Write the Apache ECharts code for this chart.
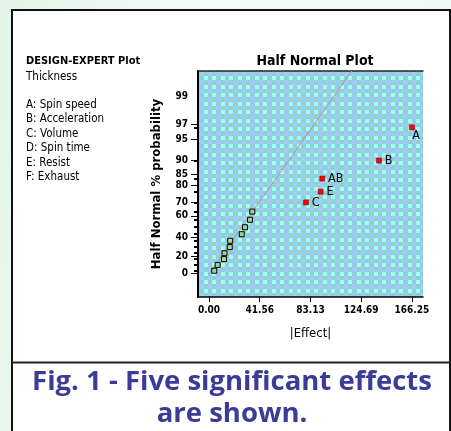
<!DOCTYPE html>
<html>
<head>
<meta charset="utf-8">
<script src="https://cdn.jsdelivr.net/npm/echarts@6/dist/echarts.min.js"></script>
<style>
html,body{margin:0;padding:0;width:451px;height:431px;overflow:hidden;
background:linear-gradient(100deg,#e4f4e8 0%,#f4fbf6 40%,#eef8f1 100%);}
#chart{width:451px;height:431px;}
</style>
</head>
<body>
<div id="chart"></div>
<script>
// ---------- data ----------
var sigNames = ['C', 'E', 'AB', 'B', 'A'];
var sigEffect = [79.4, 91.5, 92.8, 139.2, 166.25];
var sigProb = [70, 76.67, 83.33, 90, 96.67];
var smallEffect = [4.3, 7.1, 12.3, 12.7, 17.0, 17.4, 26.8, 29.5, 33.6, 35.5];
var smallProb = [3.33, 10, 16.67, 23.33, 30, 36.67, 43.33, 50, 56.67, 63.33];
var refLineEffect = [0, 116.9];
var refLineProb = [0, 99.68];
var xTickValues = [0, 41.5625, 83.125, 124.6875, 166.25];
var xTickLabels = ['0.00', '41.56', '83.13', '124.69', '166.25'];
var yTickProb = [0, 20, 40, 60, 70, 80, 85, 90, 95, 97, 99];
var yTickLabels = ['0', '20', '40', '60', '70', '80', '85', '90', '95', '97', '99'];
var factorNotes = ['A: Spin speed', 'B: Acceleration', 'C: Volume', 'D: Spin time', 'E: Resist', 'F: Exhaust'];

// ---------- half-normal probability scale ----------
function invNorm(p) {
  var a = [-3.969683028665376e+01, 2.209460984245205e+02, -2.759285104469687e+02, 1.383577518672690e+02, -3.066479806614716e+01, 2.506628277459239e+00];
  var b = [-5.447609879822406e+01, 1.615858368580409e+02, -1.556989798598866e+02, 6.680131188771972e+01, -1.328068155288572e+01];
  var c = [-7.784894002430293e-03, -3.223964580411365e-01, -2.400758277161838e+00, -2.549732539343734e+00, 4.374664141464968e+00, 2.938163982698783e+00];
  var d = [7.784695709041462e-03, 3.224671290700398e-01, 2.445134137142996e+00, 3.754408661907416e+00];
  var pl = 0.02425, q, r;
  if (p < pl) { q = Math.sqrt(-2 * Math.log(p));
    return (((((c[0]*q+c[1])*q+c[2])*q+c[3])*q+c[4])*q+c[5]) / ((((d[0]*q+d[1])*q+d[2])*q+d[3])*q+1); }
  if (p <= 1 - pl) { q = p - 0.5; r = q * q;
    return (((((a[0]*r+a[1])*r+a[2])*r+a[3])*r+a[4])*r+a[5])*q / (((((b[0]*r+b[1])*r+b[2])*r+b[3])*r+b[4])*r+1); }
  q = Math.sqrt(-2 * Math.log(1 - p));
  return -(((((c[0]*q+c[1])*q+c[2])*q+c[3])*q+c[4])*q+c[5]) / ((((d[0]*q+d[1])*q+d[2])*q+d[3])*q+1);
}
function hn(pct) { return pct <= 0 ? 0 : invNorm(0.5 + pct / 200); }

var yTickZ = yTickProb.map(hn);
var yMajorTickZ = yTickZ.slice(0, yTickZ.length - 1);
var dataTickZ = smallProb.concat(sigProb).map(hn);

// gingham pattern
var pc = document.createElement('canvas');
pc.width = 17; pc.height = 17;
var g = pc.getContext('2d');
var edges = [0, 4, 8, 12, 17];
for (var i = 0; i < 4; i++) for (var j = 0; j < 4; j++) {
  var ei = i % 2 === 0, ej = j % 2 === 0;
  g.fillStyle = (ei && ej) ? '#99ffff' : (!ei && !ej ? '#99ccff' : '#99cccc');
  g.fillRect(edges[i], edges[j], edges[i+1]-edges[i], edges[j+1]-edges[j]);
}

var smallData = smallEffect.map(function (x, i) { return [x, hn(smallProb[i])]; });
var sigData = sigEffect.map(function (x, i) {
  var item = { value: [x, hn(sigProb[i])], name: sigNames[i] };
  if (sigNames[i] === 'A') item.label = { position: [3, 5] };
  return item;
});
var lineData = refLineEffect.map(function (x, i) { return [x, hn(refLineProb[i])]; });

var chart = echarts.init(document.getElementById('chart'), null, { renderer: 'canvas' });
var fontC = '"Liberation Sans Narrow","DejaVu Sans Condensed","Liberation Sans",sans-serif';
var graphics = [
  { type: 'rect', shape: { x: 12, y: 10, width: 438, height: 440 }, style: { fill: '#fff', stroke: '#111', lineWidth: 2 }, z: -10, silent: true },
  { type: 'line', shape: { x1: 12, y1: 362.5, x2: 450, y2: 362.5 }, style: { stroke: '#222', lineWidth: 2 }, z: -9, silent: true },
  { type: 'text', x: 26, y: 56, style: { text: 'DESIGN-EXPERT Plot', font: 'bold 11px ' + fontC, fill: '#000' } },
  { type: 'text', x: 26, y: 71, style: { text: 'Thickness', font: '11.5px ' + fontC, fill: '#000' } },
  { type: 'text', x: 232, y: 366, style: { text: 'Fig. 1 - Five significant effects\nare shown.', font: 'bold 27.5px "Open Sans",sans-serif', fill: '#3b3b98', align: 'center', verticalAlign: 'top', lineHeight: 32 } }
];
factorNotes.forEach(function (t, i) {
  graphics.push({ type: 'text', x: 26, y: 99 + i * 14.5, style: { text: t, font: '11.5px ' + fontC, fill: '#000' } });
});

chart.setOption({
  animation: false,
  title: { text: 'Half Normal Plot', left: 310, top: 49, textAlign: 'center',
    textStyle: { fontSize: 14, fontWeight: 'bold', fontFamily: fontC, color: '#000' } },
  grid: { left: 198, top: 71, width: 225, height: 226, show: true, borderWidth: 0,
    backgroundColor: { image: pc, repeat: 'repeat' } },
  xAxis: [{
    type: 'value', position: 'bottom', min: -9.0, max: 175.3,
    name: '|Effect|', nameLocation: 'middle', nameGap: 30,
    nameTextStyle: { fontSize: 13, fontFamily: fontC, color: '#000' },
    axisLine: { show: true, onZero: false, lineStyle: { color: '#000', width: 1.5 } },
    axisTick: { customValues: xTickValues, length: 5, lineStyle: { color: '#000', width: 1 } },
    axisLabel: { customValues: xTickValues, margin: 8, fontSize: 10, fontWeight: 'bold', fontFamily: fontC, color: '#000',
      formatter: function (v) { var k = 0, best = 1e9; xTickValues.forEach(function (t, i) { if (Math.abs(t - v) < best) { best = Math.abs(t - v); k = i; } }); return xTickLabels[k]; } },
    splitLine: { show: false }
  }, {
    type: 'value', position: 'top', min: -9.0, max: 175.3,
    axisLine: { show: true, onZero: false, lineStyle: { color: '#222', width: 1.5 } },
    axisTick: { show: false }, axisLabel: { show: false }, splitLine: { show: false }
  }],
  yAxis: [{
    type: 'value', position: 'left', min: -0.341, max: 2.949,
    name: 'Half Normal % probability', nameLocation: 'middle', nameGap: 35, nameRotate: 90,
    nameTextStyle: { fontSize: 13, fontWeight: 'bold', fontFamily: fontC, color: '#000' },
    axisLine: { show: true, onZero: false, lineStyle: { color: '#000', width: 2 } },
    axisTick: { show: true, customValues: yMajorTickZ, length: 7, lineStyle: { color: '#000', width: 1 } },
    axisLabel: { customValues: yTickZ, margin: 10, fontSize: 10, fontWeight: 'bold', fontFamily: fontC, color: '#000',
      formatter: function (v) { var k = 0, best = 1e9; yTickZ.forEach(function (t, i) { if (Math.abs(t - v) < best) { best = Math.abs(t - v); k = i; } }); return yTickLabels[k]; } },
    splitLine: { show: false }
  }, {
    type: 'value', position: 'left', min: -0.341, max: 2.949,
    axisLine: { show: false, onZero: false },
    axisTick: { show: true, customValues: dataTickZ, length: 4, lineStyle: { color: '#000', width: 2 } },
    axisLabel: { show: false }, splitLine: { show: false }
  }],
  series: [{
    type: 'line', data: lineData, symbol: 'none', silent: true, z: 1,
    lineStyle: { color: '#b89496', width: 1 }
  }, {
    type: 'scatter', data: smallData, symbol: 'rect', symbolSize: 5, z: 2,
    itemStyle: { color: 'rgba(170,215,90,0.55)', borderColor: '#000', borderWidth: 1, opacity: 1 }
  }, {
    type: 'scatter', data: sigData, symbol: 'rect', symbolSize: 5, z: 3,
    itemStyle: { color: '#ff0000', borderColor: '#700', borderWidth: 0.5, opacity: 1 },
    label: { show: true, position: 'right', distance: 3, formatter: '{b}', fontSize: 12.5, fontFamily: fontC, color: '#000' }
  }],
  graphic: graphics
});
</script>
</body>
</html>
